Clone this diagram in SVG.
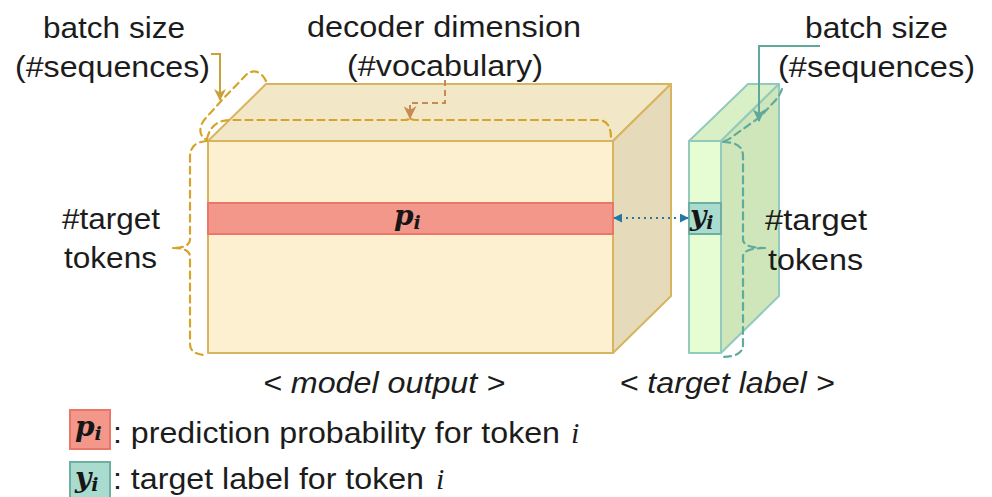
<svg xmlns="http://www.w3.org/2000/svg" width="992" height="497" viewBox="0 0 992 497">
<defs>
<style>
.lbl{font-family:"Liberation Sans",Arial,sans-serif;font-size:30px;fill:#1c1c1c;text-anchor:middle}
.ital{font-style:italic}
.math{font-family:"DejaVu Serif","Liberation Serif",serif;font-style:italic;font-weight:bold;fill:#161616}
.mi{font-family:"Liberation Serif","DejaVu Serif",serif;font-style:italic;fill:#1c1c1c}
.oface{stroke:#d8b45e;stroke-width:2;stroke-linejoin:round}
.gface{stroke:#92cabd;stroke-width:2;stroke-linejoin:round}
.brace-o{fill:none;stroke:#d6a42a;stroke-width:2.2;stroke-dasharray:7,5;stroke-linecap:round}
.brace-g{fill:none;stroke:#5fab9c;stroke-width:2.2;stroke-dasharray:7,5;stroke-linecap:round}
</style>
<marker id="ahO" viewBox="0 0 12 12" refX="11" refY="6" markerWidth="12" markerHeight="12" markerUnits="userSpaceOnUse" orient="auto"><path d="M0,0 L12,6 L0,12 L3.5,6 z" fill="#c9a23c"/></marker>
<marker id="ahD" viewBox="0 0 12 12" refX="11" refY="6" markerWidth="13" markerHeight="13" markerUnits="userSpaceOnUse" orient="auto"><path d="M0,0 L12,6 L0,12 L3.5,6 z" fill="#c88a52"/></marker>
<marker id="ahG" viewBox="0 0 12 12" refX="11" refY="6" markerWidth="13" markerHeight="13" markerUnits="userSpaceOnUse" orient="auto"><path d="M0,0 L12,6 L0,12 L3.5,6 z" fill="#5fa89a"/></marker>
<marker id="ahB" viewBox="0 0 10 10" refX="9" refY="5" markerWidth="9" markerHeight="9" markerUnits="userSpaceOnUse" orient="auto-start-reverse"><path d="M0,0 L10,5 L0,10 z" fill="#2676a6"/></marker>
</defs>
<rect width="992" height="497" fill="#ffffff"/>

<g id="model-output">
<polygon class="oface" points="208,141 266,84 671,84 613,141" fill="#f2e7c6"/>
<polygon class="oface" points="613,141 671,84 671,296 613,353" fill="#e5dab9"/>
<rect class="oface" x="208" y="141" width="405" height="212" fill="#fdf0d0"/>
<rect x="208" y="203" width="405" height="31" fill="#f4978b" stroke="#ea7669" stroke-width="2"/>
<text class="math" x="394" y="225" font-size="28">p<tspan font-size="19" dy="4">i</tspan></text>
</g>

<g id="target-label">
<polygon class="gface" points="689,141 748,84 779,84 721,141" fill="#d9efc5"/>
<polygon class="gface" points="721,141 779,84 779,296 721,353" fill="#cfe5ba"/>
<rect class="gface" x="689" y="141" width="32" height="212" fill="#e6fcd3"/>
<rect x="689" y="203" width="32" height="31" fill="#a9dccf" stroke="#6db0a1" stroke-width="2"/>
<text class="math" x="690" y="225" font-size="28">y<tspan font-size="19" dy="4">i</tspan></text>
</g>

<g id="connectors">
<line x1="614" y1="218" x2="688" y2="218" stroke="#2676a6" stroke-width="2" stroke-dasharray="2,4" marker-start="url(#ahB)" marker-end="url(#ahB)"/>
<path class="brace-o" d="M266,81 C262,72 253,68 246,75 L222,100 L205,119 C199,126 198,136 207,140"/>
<path class="brace-o" d="M207,139 Q211,121 229,120 L404,120 Q410,120 410,117 Q410,120 416,120 L599,120 Q611,121 611,138"/>
<path class="brace-o" d="M207,141 Q190,142 190,157 L190,240 Q189,248 173,248 M173,248 Q189,248 190,256 L190,344 Q190,355 207,355"/>
<path class="brace-g" d="M782,89 Q780,96 772,104 L760,117 L736,134 Q729,140 722,142"/>
<path class="brace-g" d="M723,142 Q743,142 743,156 L743,240 Q744,248 765,248 M765,248 Q744,248 743,256 L743,345 Q743,357 721,357"/>
<polyline points="211,54 220,54 220,100" fill="none" stroke="#c9a23c" stroke-width="2" marker-end="url(#ahO)"/>
<polyline points="445,80 445,103 410,103 410,118" fill="none" stroke="#c88a52" stroke-width="2" stroke-dasharray="6,4" marker-end="url(#ahD)"/>
<polyline points="820,46 759,46 759,121" fill="none" stroke="#5fa89a" stroke-width="2" marker-end="url(#ahG)"/>
</g>

<g id="labels">
<text class="lbl" x="114" y="38" textLength="142" lengthAdjust="spacingAndGlyphs">batch size</text>
<text class="lbl" x="112.5" y="77" textLength="195" lengthAdjust="spacingAndGlyphs">(#sequences)</text>
<text class="lbl" x="444" y="37" textLength="274" lengthAdjust="spacingAndGlyphs">decoder dimension</text>
<text class="lbl" x="445" y="76" textLength="196" lengthAdjust="spacingAndGlyphs">(#vocabulary)</text>
<text class="lbl" x="876.5" y="38" textLength="143" lengthAdjust="spacingAndGlyphs">batch size</text>
<text class="lbl" x="876.5" y="77" textLength="197" lengthAdjust="spacingAndGlyphs">(#sequences)</text>
<text class="lbl" x="111" y="229" textLength="98" lengthAdjust="spacingAndGlyphs">#target</text>
<text class="lbl" x="110.5" y="268" textLength="93" lengthAdjust="spacingAndGlyphs">tokens</text>
<text class="lbl" x="816" y="230" textLength="102" lengthAdjust="spacingAndGlyphs">#target</text>
<text class="lbl" x="815.5" y="270" textLength="95" lengthAdjust="spacingAndGlyphs">tokens</text>
<text class="lbl ital" x="384" y="393" textLength="242" lengthAdjust="spacingAndGlyphs">&lt; model output &gt;</text>
<text class="lbl ital" x="727" y="393" textLength="215" lengthAdjust="spacingAndGlyphs">&lt; target label &gt;</text>
</g>

<g id="legend">
<rect x="70" y="410" width="40" height="39" fill="#f4978b" stroke="#ea7669" stroke-width="2"/>
<text class="math" x="75" y="436" font-size="28">p<tspan font-size="19" dy="4">i</tspan></text>
<text class="lbl" x="113" y="443" style="text-anchor:start" textLength="447" lengthAdjust="spacingAndGlyphs">: prediction probability for token</text>
<text class="mi" x="571" y="443" font-size="30">i</text>
<rect x="70" y="462" width="40" height="40" fill="#a9dccf" stroke="#6db0a1" stroke-width="2"/>
<text class="math" x="75" y="487" font-size="28">y<tspan font-size="19" dy="4">i</tspan></text>
<text class="lbl" x="113" y="489" style="text-anchor:start" textLength="311" lengthAdjust="spacingAndGlyphs">: target label for token</text>
<text class="mi" x="436" y="489" font-size="30">i</text>
</g>
</svg>
